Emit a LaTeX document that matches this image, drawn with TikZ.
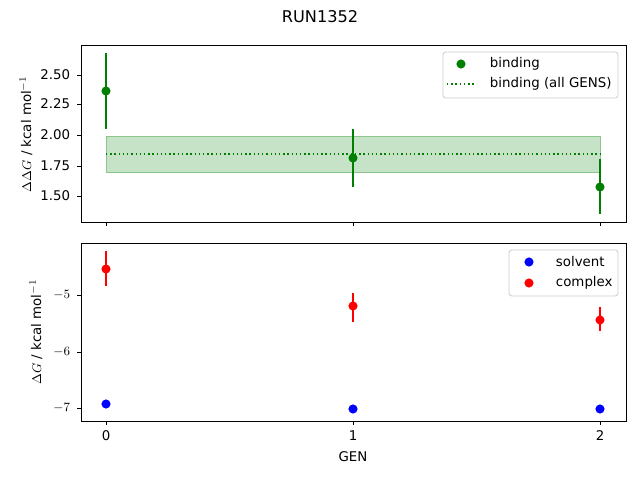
\documentclass[tikz,border=0pt]{standalone}
\usepackage{fontspec}
\setmainfont{DejaVu Sans}
\usetikzlibrary{positioning}
\definecolor{mgreen}{RGB}{0,128,0}
\tikzset{
  axis/.style={draw, line width=0.6pt},
  tick/.style={font=\fontsize{9.5}{11}\selectfont},
  errbar/.style={line width=1.1pt},
  dot/.style={circle, fill, inner sep=0pt, minimum size=6.5pt},
  legbox/.style={draw=black!20, fill=white, rounded corners=2pt, line width=0.6pt}
  }
\begin{document}
\begin{tikzpicture}[x=0.025cm, y=-0.025cm, font=\fontsize{9.5}{11}\selectfont]
	\useasboundingbox (0,0) rectangle (640,480);
	\node (title) at (320,17) {\fontsize{11.5}{13}\selectfont RUN1352};

	% Top panel
	\fill[mgreen!22] (106,136) rectangle (600,172);
	\draw[mgreen!45] (106,136) rectangle (600,172);
	\draw[mgreen, dotted, line width=1pt] (106,154) -- (600,154);
	\foreach \x/\c/\lo/\hi in {106/91/53/129, 353/158/129/187, 600/187/159/214} {
		\draw[errbar, mgreen] (\x,\lo) -- (\x,\hi);
		\node[dot, mgreen] at (\x,\c) {};
	}
	\draw[axis] (81,45) rectangle (626,222);
	\foreach \y/\t in {75/2.50, 104/2.25, 135/2.00, 166/1.75, 196/1.50} {
		\draw (81,\y) -- ++(-4,0);
		\node[tick, anchor=east] at (75,\y) {\t};
	}
	\foreach \x in {106,353,600} \draw (\x,222) -- ++(0,4);
	\node[rotate=90] (ylabtop) at (26,134) {$\Delta\Delta G$ / kcal mol$^{-1}$};

	% Top legend
	\draw[legbox] (443,52) rectangle (618,98);
	\node[dot, mgreen] (legbind) at (461,64) {};
	\node[anchor=west] (legbindtxt) at (485,64) {binding};
	\draw[mgreen, dotted, line width=1pt] (447,84) -- (475,84);
	\node[anchor=west] (legalltxt) at (485,84) {binding (all GENS)};

	% Bottom panel
	\foreach \x/\c/\lo/\hi in {106/269/251/286, 353/306/293/322, 600/320/307/331} {
		\draw[errbar, red] (\x,\lo) -- (\x,\hi);
		\node[dot, red] at (\x,\c) {};
	}
	\foreach \x/\c in {106/404, 353/409, 600/409} \node[dot, blue] at (\x,\c) {};
	\draw[axis] (81,243) rectangle (626,421);
	\foreach \y/\t in {295/$-5$, 352/$-6$, 408/$-7$} {
		\draw (81,\y) -- ++(-4,0);
		\node[tick, anchor=east] at (75,\y) {\t};
	}
	\foreach \x/\t in {106/0, 353/1, 600/2} {
		\draw (\x,421) -- ++(0,4);
		\node[tick, anchor=north] at (\x,426) {\t};
	}
	\node (xlab) at (353,457) {GEN};
	\node[rotate=90] (ylabbot) at (36,332) {$\Delta G$ / kcal mol$^{-1}$};

	% Bottom legend
	\draw[legbox] (509,250) rectangle (618,296);
	\node[dot, blue] (legsolv) at (529,262) {};
	\node[anchor=west] (legsolvtxt) at (551,262) {solvent};
	\node[dot, red] (legcplx) at (529,283) {};
	\node[anchor=west] (legcplxtxt) at (551,283) {complex};
\end{tikzpicture}
\end{document}
